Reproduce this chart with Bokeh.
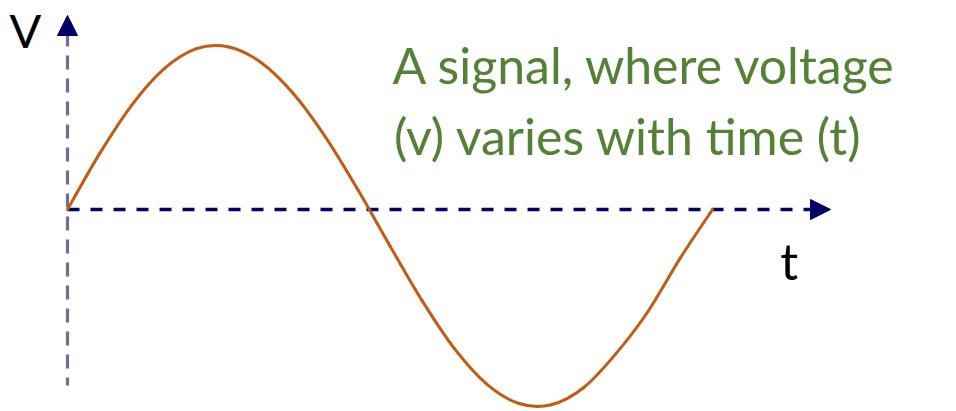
from bokeh.plotting import figure
from bokeh.models import Range1d, Arrow, NormalHead, Label
from bokeh.embed import file_html
from bokeh.resources import INLINE

# One cycle of the signal: time in ms, voltage in V
time_ms = [0, 1, 2, 3, 4, 5, 6, 7, 8, 9, 10, 11, 12, 13, 14, 15, 16, 17, 18, 19, 20]
voltage = [0.0, 0.561, 1.047, 1.408, 1.608, 1.625, 1.470, 1.160, 0.724, 0.200,
           -0.365, -0.914, -1.392, -1.747, -1.940, -1.953, -1.783, -1.444, -1.020,
           -0.486, 0.0]

axis_label_v = "V"
axis_label_t = "t"
caption_lines = ["A signal, where voltage", "(v) varies with time (t)"]

NAVY = "#000066"
AXIS_V = "#6e6e98"
CURVE = "#C55A11"
GREEN = "#538135"
FONT = "Lato"

p = figure(width=956, height=411, output_backend="svg", toolbar_location=None,
           x_range=Range1d(-2.078, 27.566), y_range=Range1d(-2.02, 2.09),
           min_border=0)
p.axis.visible = False
p.grid.visible = False
p.outline_line_color = None
p.background_fill_color = "white"
p.border_fill_color = "white"

# dashed time axis with arrow head
p.line(x=[0, 23.04], y=[0, 0], line_color=NAVY, line_width=3.5, line_dash="12 11")
p.add_layout(Arrow(end=NormalHead(size=20, fill_color=NAVY, line_color=NAVY, line_width=1),
                   x_start=22.9, y_start=0, x_end=23.66, y_end=0, line_alpha=0))

# dashed voltage axis with arrow head (drawn top-down so the dashes start under the head)
p.line(x=[0, 0], y=[1.77, -1.76], line_color=AXIS_V, line_width=3.2, line_dash="14 9")
p.add_layout(Arrow(end=NormalHead(size=20, fill_color=NAVY, line_color=NAVY, line_width=1),
                   x_start=0, y_start=1.70, x_end=0, y_end=1.94, line_alpha=0))

# smooth curve through the samples (Catmull-Rom segments as cubic Beziers)
n = len(time_ms)
xs = [time_ms[0]] + time_ms + [time_ms[-1]]
ys = [voltage[0]] + voltage + [voltage[-1]]
x0, y0, x1, y1, cx0, cy0, cx1, cy1 = [], [], [], [], [], [], [], []
for i in range(n - 1):
    a, b, c, d = i, i + 1, i + 2, i + 3
    x0.append(xs[b]); y0.append(ys[b])
    x1.append(xs[c]); y1.append(ys[c])
    cx0.append(xs[b] + (xs[c] - xs[a]) / 6); cy0.append(ys[b] + (ys[c] - ys[a]) / 6)
    cx1.append(xs[c] - (xs[d] - xs[b]) / 6); cy1.append(ys[c] - (ys[d] - ys[b]) / 6)
p.bezier(x0=x0, y0=y0, x1=x1, y1=y1, cx0=cx0, cy0=cy0, cx1=cx1, cy1=cy1,
         line_color=CURVE, line_width=3, line_cap="round")

# labels
p.add_layout(Label(x=-1.80, y=1.80, text=axis_label_v, text_font=FONT, text_font_size="47px",
                   text_color="black", text_baseline="alphabetic"))
p.add_layout(Label(x=22.10, y=-0.51, text=axis_label_t, text_font=FONT, text_font_size="50px",
                   text_color="black", text_baseline="alphabetic"))
p.add_layout(Label(x=10.08, y=1.45, text=caption_lines[0], text_font=FONT, text_font_size="50px",
                   text_color=GREEN, text_baseline="alphabetic"))
p.add_layout(Label(x=10.12, y=0.74, text=caption_lines[1], text_font=FONT, text_font_size="50px",
                   text_color=GREEN, text_baseline="alphabetic"))

open("out.html", "w").write(file_html(p, INLINE))
